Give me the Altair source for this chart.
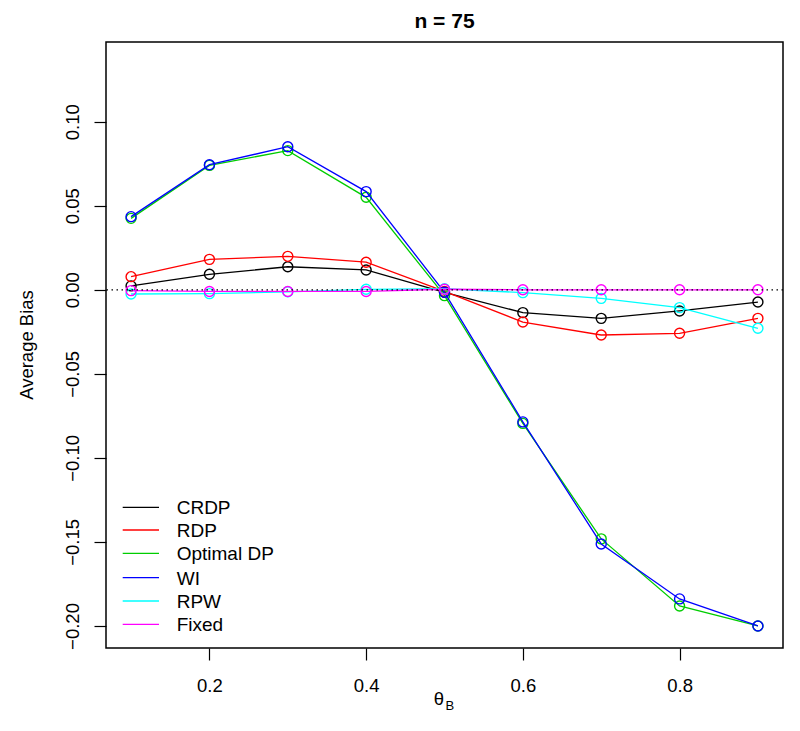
import altair as alt
import pandas as pd

# ---- data ----
theta_b = [0.1, 0.2, 0.3, 0.4, 0.5, 0.6, 0.7, 0.8, 0.9]
series_names = ["CRDP", "RDP", "Optimal DP", "WI", "RPW", "Fixed"]
series_colors = ["#000000", "#FF0000", "#00CD00", "#0000FF", "#00FFFF", "#FF00FF"]

crdp = [0.0023, 0.0092, 0.0137, 0.0118, -0.0015, -0.0136, -0.0170, -0.0126, -0.0073]
rdp = [0.0078, 0.0181, 0.0199, 0.0164, -0.0010, -0.0192, -0.0269, -0.0259, -0.0170]
optimal_dp = [0.0425, 0.0740, 0.0828, 0.0550, -0.0035, -0.0795, -0.1482, -0.1881, -0.2000]
wi = [0.0435, 0.0744, 0.0851, 0.0584, -0.0015, -0.0786, -0.1512, -0.1839, -0.2000]
rpw = [-0.0025, -0.0023, -0.0012, 0.0003, 0.0006, -0.0017, -0.0051, -0.0106, -0.0229]
fixed = [-0.0005, -0.0010, -0.0010, -0.0010, 0.0003, 0.0000, 0.0000, 0.0000, 0.0000]
series_values = [crdp, rdp, optimal_dp, wi, rpw, fixed]

x_ticks = [0.2, 0.4, 0.6, 0.8]
y_ticks = [-0.20, -0.15, -0.10, -0.05, 0.00, 0.05, 0.10]
title_text = "n = 75"
y_title = "Average Bias"
x_title_main = "θ"
x_title_sub = "B"

FONT = "Liberation Sans"
W, H = 677, 606

x_scale = alt.Scale(domain=[0.068, 0.932], nice=False, zero=False)
y_scale = alt.Scale(domain=[-0.2131, 0.1474], nice=False, zero=False)
x_enc = alt.X("theta:Q", scale=x_scale,
              axis=alt.Axis(values=x_ticks, format=".1f", title=None,
                            labelBaseline="alphabetic", labelPadding=31))
y_enc = alt.Y("bias:Q", scale=y_scale,
              axis=alt.Axis(values=y_ticks, format=".2f", title=None,
                            labelAngle=270, labelAlign="center",
                            labelBaseline="alphabetic", labelPadding=16))

layers = []
for name, color, vals in zip(series_names, series_colors, series_values):
    df = pd.DataFrame({"theta": theta_b, "bias": vals})
    base = alt.Chart(df).encode(x=x_enc, y=y_enc)
    layers.append(base.mark_line(color=color, strokeWidth=1.3))
    layers.append(base.mark_point(shape="circle", filled=False, size=100,
                                  strokeWidth=1.4, color=color, opacity=1))

# dotted reference line at zero
layers.append(
    alt.Chart(pd.DataFrame({"bias": [0.0]}))
    .mark_rule(color="black", strokeDash=[1.5, 3.5], strokeWidth=1.2)
    .encode(y=y_enc)
)

# legend (bottom-left, no box)
legend_row_y = [465.3, 488.0, 511.3, 535.7, 559.0, 582.3]
for name, color, ry in zip(series_names, series_colors, legend_row_y):
    layers.append(
        alt.Chart(pd.DataFrame({"label": [name]}))
        .mark_rule(color=color, strokeWidth=1.3)
        .encode(x=alt.value(16.7), x2=alt.value(53), y=alt.value(ry))
    )
    layers.append(
        alt.Chart(pd.DataFrame({"label": [name]}))
        .mark_text(align="left", baseline="alphabetic", font=FONT,
                   fontSize=19, color="black")
        .encode(x=alt.value(70.7), y=alt.value(ry + 6.8), text="label:N")
    )

# title
layers.append(
    alt.Chart(pd.DataFrame({"t": [title_text]}))
    .mark_text(align="center", baseline="alphabetic", font=FONT,
               fontSize=21, fontWeight="bold", color="black")
    .encode(x=alt.value(W / 2), y=alt.value(-14), text="t:N")
)
# y axis title
layers.append(
    alt.Chart(pd.DataFrame({"t": [y_title]}))
    .mark_text(align="center", baseline="alphabetic", angle=270, font=FONT,
               fontSize=18.5, color="black")
    .encode(x=alt.value(-73), y=alt.value(H / 2), text="t:N")
)
# x axis title theta_B
layers.append(
    alt.Chart(pd.DataFrame({"t": [x_title_main]}))
    .mark_text(align="center", baseline="alphabetic", font=FONT,
               fontSize=18.5, color="black")
    .encode(x=alt.value(333), y=alt.value(663), text="t:N")
)
layers.append(
    alt.Chart(pd.DataFrame({"t": [x_title_sub]}))
    .mark_text(align="left", baseline="alphabetic", font=FONT,
               fontSize=13, color="black")
    .encode(x=alt.value(339.5), y=alt.value(668), text="t:N")
)

chart = (
    alt.layer(*layers)
    .properties(width=W, height=H,
                autosize=alt.AutoSizeParams(type="none"),
                padding={"left": 98, "top": 34, "right": 9, "bottom": 75})
    .configure_view(stroke="black", strokeWidth=1.5)
    .configure_axis(domain=False, grid=False, ticks=True, tickSize=12,
                    tickColor="black", tickWidth=1.2, labelFont=FONT,
                    labelFontSize=18.5, labelColor="black")
)

chart.save("out.html", embed_options={"renderer": "svg", "actions": False})
